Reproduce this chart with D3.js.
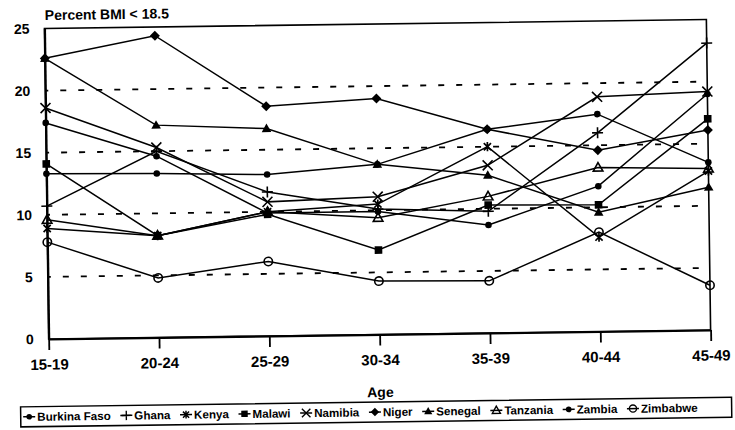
<!DOCTYPE html>
<html>
<head>
<meta charset="utf-8">
<script src="https://cdn.jsdelivr.net/npm/d3@7"></script>
<style>
  html, body { margin: 0; padding: 0; background: #fff; }
  svg { display: block; }
  text { font-family: "Liberation Sans", Arial, sans-serif; font-weight: bold; fill: #000; }
</style>
</head>
<body>
<script>
// ---------- data ----------
const ages = ["15-19", "20-24", "25-29", "30-34", "35-39", "40-44", "45-49"];
const yTickValues = [0, 5, 10, 15, 20, 25];
const gridValues = [5, 10, 15, 20];
const countries = ["Burkina Faso", "Ghana", "Kenya", "Malawi", "Namibia", "Niger", "Senegal", "Tanzania", "Zambia", "Zimbabwe"];
const markerTypes = ["dot", "plus", "asterisk", "square", "times", "diamond", "triangle", "openTriangle", "dot", "openCircle"];

const burkinaFaso = [17.4, 14.6, 9.9, 9.9, 8.7, 11.7, 19.0];
const ghana       = [10.7, 15.0, 11.6, 10.1, 9.8, 16.0, 23.1];
const kenya       = [8.9, 8.2, 10.0, 10.5, 15.0, 7.6, 12.8];
const malawi      = [14.1, 8.2, 9.8, 6.8, 10.3, 10.2, 17.0];
const namibia     = [18.6, 15.3, 10.8, 11.1, 13.5, 18.9, 19.2];
const niger       = [22.6, 24.3, 18.5, 19.0, 16.4, 14.6, 16.1];
const senegal     = [22.6, 17.1, 16.7, 13.7, 12.7, 9.6, 11.5];
const tanzania    = [9.6, 8.2, 10.0, 9.4, 11.0, 13.2, 13.0];
const zambia      = [13.3, 13.2, 13.0, 13.7, 16.4, 17.5, 13.5];
const zimbabwe    = [7.8, 4.8, 6.0, 4.3, 4.2, 8.0, 3.6];

const seriesValues = [burkinaFaso, ghana, kenya, malawi, namibia, niger, senegal, tanzania, zambia, zimbabwe];
const series = countries.map((name, i) => ({ name, marker: markerTypes[i], values: seriesValues[i] }));

// ---------- layout ----------
const W = 735, H = 430;
const plotLeft = 47, plotRight = 709, plotTop = 24, plotBottom = 334.5;

const svg = d3.select("body").append("svg").attr("width", W).attr("height", H);
const root = svg.append("g").attr("transform", "rotate(-0.78,378,215)");

const x = d3.scalePoint().domain(ages).range([plotLeft, plotRight]).padding(0);
const y = d3.scaleLinear().domain([0, 25]).range([plotBottom, plotTop]);

// gridlines
root.append("g").selectAll("line").data(gridValues).join("line")
  .attr("x1", plotLeft).attr("x2", plotRight)
  .attr("y1", d => y(d)).attr("y2", d => y(d))
  .attr("stroke", "#000").attr("stroke-width", 1.8)
  .attr("stroke-dasharray", "6,12").attr("stroke-dashoffset", 3);

// frame (top + right)
root.append("rect")
  .attr("x", plotLeft).attr("y", y(25)).attr("width", plotRight - plotLeft).attr("height", y(0) - y(25))
  .attr("fill", "none").attr("stroke", "#000").attr("stroke-width", 1.6);

// x axis
const xAxis = root.append("g").attr("transform", `translate(0,${y(0)})`)
  .call(d3.axisBottom(x).tickSizeInner(11).tickSizeOuter(0).tickPadding(9));
xAxis.select(".domain").attr("stroke", "#000").attr("stroke-width", 2.2);
xAxis.selectAll(".tick line").attr("stroke", "#000").attr("stroke-width", 1.8);
xAxis.selectAll(".tick text").style("font-size", "15px").style("font-family", "'Liberation Sans', Arial, sans-serif").style("font-weight", "bold").attr("fill", "#000");

// y axis
const yAxis = root.append("g").attr("transform", `translate(${plotLeft},0)`)
  .call(d3.axisLeft(y).tickValues(yTickValues).tickSize(0).tickPadding(15));
yAxis.select(".domain").attr("stroke", "#000").attr("stroke-width", 2.2);
yAxis.selectAll(".tick text").style("font-size", "14px").style("font-family", "'Liberation Sans', Arial, sans-serif").style("font-weight", "bold").attr("fill", "#000");

// title and axis title
root.append("text").attr("x", 47.5).attr("y", 15.5).style("font-size", "14px").text("Percent BMI < 18.5");
root.append("text").attr("x", 378).attr("y", 397).attr("text-anchor", "middle").style("font-size", "14px").text("Age");

// ---------- markers ----------
function drawMarker(g, type) {
  switch (type) {
    case "dot":
      g.append("circle").attr("r", 3.3).attr("fill", "#000"); break;
    case "plus":
      g.append("path").attr("d", "M-5.5,0H5.5M0,-5.5V5.5").attr("stroke", "#000").attr("stroke-width", 1.6).attr("fill", "none"); break;
    case "asterisk":
      g.append("path").attr("d", "M-3.6,-3.6L3.6,3.6M-3.6,3.6L3.6,-3.6M0,-4.6V4.6").attr("stroke", "#000").attr("stroke-width", 1.7).attr("fill", "none"); break;
    case "square":
      g.append("rect").attr("x", -3.8).attr("y", -3.8).attr("width", 7.6).attr("height", 7.6).attr("fill", "#000"); break;
    case "times":
      g.append("path").attr("d", "M-5,-5L5,5M-5,5L5,-5").attr("stroke", "#000").attr("stroke-width", 1.6).attr("fill", "none"); break;
    case "diamond":
      g.append("path").attr("d", "M0,-5L5,0L0,5L-5,0Z").attr("fill", "#000"); break;
    case "triangle":
      g.append("path").attr("d", "M0,-5L4.8,3.5L-4.8,3.5Z").attr("fill", "#000"); break;
    case "openTriangle":
      g.append("path").attr("d", "M0,-5L4.8,3.5L-4.8,3.5Z").attr("fill", "none").attr("stroke", "#000").attr("stroke-width", 1.6); break;
    case "openCircle":
      g.append("circle").attr("r", 4.2).attr("fill", "none").attr("stroke", "#000").attr("stroke-width", 1.6); break;
  }
}

// lines
const line = d3.line().x((d, i) => x(ages[i])).y(d => y(d));
root.append("g").selectAll("path").data(series).join("path")
  .attr("d", d => line(d.values))
  .attr("fill", "none").attr("stroke", "#000").attr("stroke-width", 1.5);

// point markers
series.forEach(s => {
  s.values.forEach((v, i) => {
    const g = root.append("g").attr("transform", `translate(${x(ages[i])},${y(v)})`);
    drawMarker(g, s.marker);
  });
});

// ---------- legend ----------
const legX0 = 18, legX1 = 729, legY0 = 402, legY1 = 422;
root.append("rect").attr("x", legX0).attr("y", legY0).attr("width", legX1 - legX0).attr("height", legY1 - legY0)
  .attr("fill", "#fff").attr("stroke", "#000").attr("stroke-width", 1.5);

const leg = root.append("g");
const items = series.map(s => {
  const g = leg.append("g");
  const t = g.append("text").attr("x", 14).attr("y", 4.2).style("font-size", "11.6px").text(s.name);
  return { s, g, w: 14 + t.node().getComputedTextLength() };
});
const startX = 20.5, endX = 695;
const totalW = d3.sum(items, d => d.w);
const gap = (endX - startX - totalW) / (items.length - 1);
let cursorX = startX;
const legY = (legY0 + legY1) / 2;
items.forEach(it => {
  it.g.attr("transform", `translate(${cursorX},${legY})`);
  it.g.append("line").attr("x1", 0).attr("x2", 12).attr("y1", 0).attr("y2", 0).attr("stroke", "#000").attr("stroke-width", 1.5);
  const m = it.g.append("g").attr("transform", "translate(6,0) scale(0.85)");
  drawMarker(m, it.s.marker);
  cursorX += it.w + gap;
});
</script>
</body>
</html>
